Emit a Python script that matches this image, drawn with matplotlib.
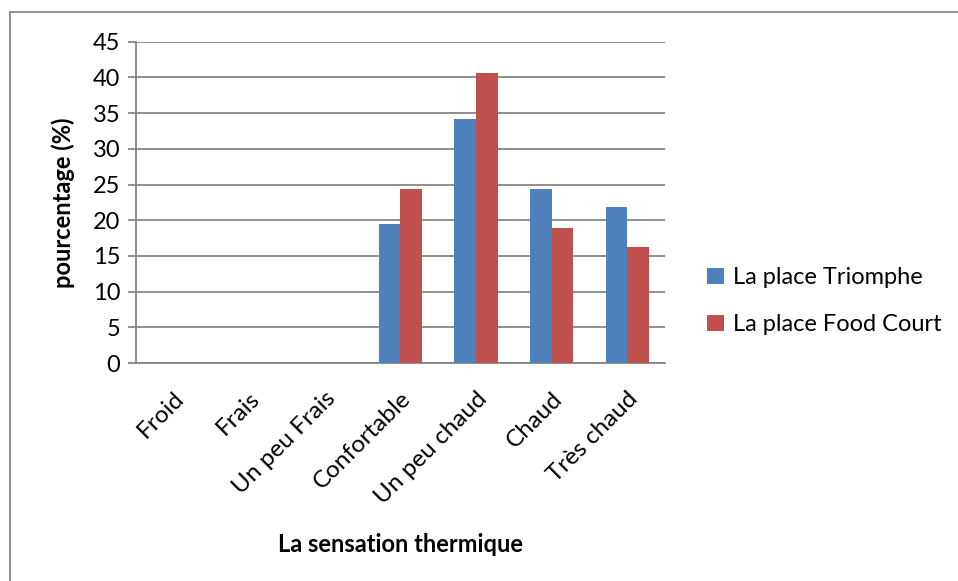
import matplotlib
matplotlib.use("Agg")
import matplotlib.pyplot as plt
import numpy as np
from matplotlib.patches import Rectangle

categories = ["Froid", "Frais", "Un peu Frais", "Confortable", "Un peu chaud", "Chaud", "Très chaud"]
triomphe = [0, 0, 0, 19.5, 34.2, 24.4, 21.9]
food_court = [0, 0, 0, 24.3, 40.6, 18.9, 16.2]
series_names = ["La place Triomphe", "La place Food Court"]
yticks = [0, 5, 10, 15, 20, 25, 30, 35, 40, 45]

plt.rcParams['font.family'] = ['Lato', 'DejaVu Sans']

W, H = 958, 581
fig = plt.figure(figsize=(W/100, H/100), dpi=100)
ax = fig.add_axes([135.5/W, 1 - 363/H, (665-135.5)/W, (363-41.7)/H])

x = np.arange(len(categories))
bw = 1/3.5
ax.bar(x - bw/2, triomphe, bw, color="#4F81BD", label=series_names[0], zorder=3)
ax.bar(x + bw/2, food_court, bw, color="#C0504D", label=series_names[1], zorder=3)

ax.set_xlim(-0.5, len(categories) - 0.5)
ax.set_ylim(0, 45)
ax.set_yticks(yticks)
ax.set_yticklabels([str(v) for v in yticks], fontsize=17)
ax.yaxis.grid(True, color="#868686", linewidth=1.3, zorder=0)
ax.set_axisbelow(True)
for s in ["top", "right"]:
    ax.spines[s].set_visible(False)
ax.spines["left"].set_color("#868686")
ax.spines["bottom"].set_color("#868686")
ax.spines["left"].set_linewidth(1.3)
ax.spines["bottom"].set_linewidth(1.3)
ax.tick_params(axis="y", length=6, color="#868686", width=1.3, pad=5)
ax.tick_params(axis="x", length=0, pad=18)
ax.set_xticks(x)
ax.set_xticklabels(categories, rotation=45, ha="right", rotation_mode="anchor", fontsize=17.5)

ax.set_ylabel("pourcentage (%)", fontsize=17, fontweight="bold", labelpad=13)
ax.set_xlabel("La sensation thermique", fontsize=17, fontweight="bold", labelpad=18)

leg = fig.legend(loc="upper left", bbox_to_anchor=(698/W, 1 - 258/H), frameon=False,
                 fontsize=17, handlelength=0.7, handleheight=0.7, handletextpad=0.4,
                 labelspacing=1.1, borderaxespad=0)

fig.patches.append(Rectangle((9.5/W, -0.5), 1.5, 1.5 - 11.5/H, transform=fig.transFigure,
                             fill=False, edgecolor="#868686", linewidth=1.3))

fig.savefig("out.png", dpi=100, facecolor="white")
